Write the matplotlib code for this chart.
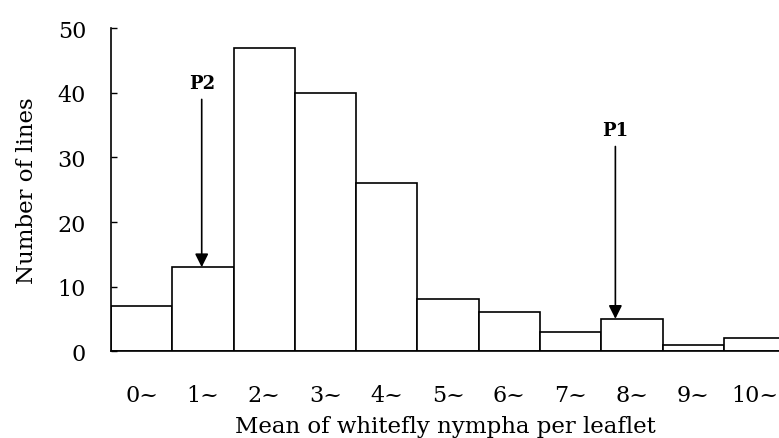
import matplotlib
matplotlib.use("Agg")
import matplotlib.pyplot as plt

classes = ["0~", "1~", "2~", "3~", "4~", "5~", "6~", "7~", "8~", "9~", "10~"]
counts = [7, 13, 47, 40, 26, 8, 6, 3, 5, 1, 2]

# arrow markers: label, x position, arrow start, arrow tip (bar top)
marks = [("P2", 1.48, 39, 13), ("P1", 8.23, 31.7, 5)]

plt.rcParams["font.family"] = "DejaVu Serif"

fig = plt.figure(figsize=(7.79, 4.39), dpi=100)
ax = fig.add_axes([0.1425, 0.198, 0.8575, 0.735])

x = list(range(len(classes)))
ax.bar(x, counts, width=1.0, align="edge", color="white", edgecolor="black", linewidth=1.2)

ax.set_xlim(0, 10.9)
ax.set_ylim(0, 50)
ax.set_yticks([0, 10, 20, 30, 40, 50])
ax.set_xticks([i + 0.5 for i in x])
ax.set_xticklabels(classes)

ax.tick_params(axis="y", direction="in", length=4, width=1, pad=18, labelsize=16)
ax.tick_params(axis="x", length=0, pad=24, labelsize=16)

for side in ["top", "right"]:
    ax.spines[side].set_visible(False)
for side in ["left", "bottom"]:
    ax.spines[side].set_linewidth(1.2)

for label, xp, y0, y1 in marks:
    ax.annotate("", xy=(xp, y1), xytext=(xp, y0),
                arrowprops=dict(arrowstyle="-|>", color="black", lw=1.2,
                                mutation_scale=20, shrinkA=0, shrinkB=0))
    ax.text(xp, y0 + 1.2, label, ha="center", va="bottom",
            fontsize=13, fontweight="bold")

ax.set_xlabel("Mean of whitefly nympha per leaflet", fontsize=16.5, labelpad=6)
ax.set_ylabel("Number of lines", fontsize=16.5, labelpad=14)

fig.savefig("out.png", dpi=100)
